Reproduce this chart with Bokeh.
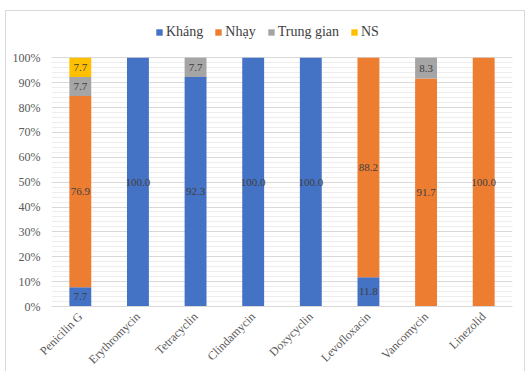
from bokeh.plotting import figure
from bokeh.models import FactorRange, Legend, LegendItem, ColumnDataSource, PrintfTickFormatter, Range1d, FixedTicker
from bokeh.core.properties import value
from bokeh.embed import file_html
from bokeh.resources import INLINE

drugs = ["Penicilin G", "Erythromycin", "Tetracyclin", "Clindamycin", "Doxycyclin",
         "Levofloxacin", "Vancomycin", "Linezolid"]
series = ["Kháng", "Nhạy", "Trung gian", "NS"]
khang = [7.7, 100.0, 92.3, 100.0, 100.0, 11.8, 0.0, 0.0]
nhay = [76.9, 0.0, 0.0, 0.0, 0.0, 88.2, 91.7, 100.0]
trung_gian = [7.7, 0.0, 7.7, 0.0, 0.0, 0.0, 8.3, 0.0]
ns = [7.7, 0.0, 0.0, 0.0, 0.0, 0.0, 0.0, 0.0]
colors = ["#4472C4", "#ED7D31", "#A5A5A5", "#FFC000"]
yticks = [0, 10, 20, 30, 40, 50, 60, 70, 80, 90, 100]
yminor = list(range(0, 101, 2))

FONT = "Liberation Serif"

data = {"drug": drugs, "Kháng": khang, "Nhạy": nhay, "Trung gian": trung_gian, "NS": ns}
src = ColumnDataSource(data)

p = figure(x_range=FactorRange(*drugs), y_range=Range1d(0, 115), width=520, height=363,
           output_backend="svg", toolbar_location=None,
           min_border_left=45, min_border_right=14, min_border_top=9, min_border_bottom=0,
           margin=(10, 0, 0, 5), styles={"border": "1px solid #D9D9D9"})

rs = p.vbar_stack(series, x="drug", width=0.38, color=colors, source=src, line_color=None)

# labels
lx, ly, lt = [], [], []
arrs = [khang, nhay, trung_gian, ns]
for i, d in enumerate(drugs):
    base = 0.0
    for arr in arrs:
        v = arr[i]
        if v > 0:
            lx.append(d)
            ly.append(base + v / 2)
            lt.append(f"{v:.1f}")
        base += v
p.text(x=lx, y=ly, text=lt, text_font=value(FONT), text_font_size="11px",
       text_color="#404040", text_align="center", text_baseline="middle")

legend = Legend(items=[LegendItem(label=s, renderers=[r]) for s, r in zip(series, rs)],
                orientation="horizontal", location=(104, 266),
                label_text_font=FONT, label_text_font_size="14px", label_text_color="#404040",
                glyph_width=8, glyph_height=8, spacing=11, label_standoff=3,
                border_line_color=None, background_fill_alpha=0, padding=3, margin=0)
p.add_layout(legend)

p.yaxis.ticker = FixedTicker(ticks=yticks, minor_ticks=yminor)
p.yaxis.formatter = PrintfTickFormatter(format="%d%%")
p.yaxis.axis_line_color = None
p.yaxis.major_tick_line_color = None
p.yaxis.minor_tick_line_color = None
p.yaxis.major_label_text_font = FONT
p.yaxis.major_label_text_font_size = "12px"
p.yaxis.major_label_text_color = "#595959"

p.xaxis.axis_line_color = "#D9D9D9"
p.xaxis.major_tick_line_color = None
p.xaxis.major_label_standoff = 2
p.xaxis.major_label_orientation = 0.785
p.xaxis.major_label_text_font = FONT
p.xaxis.major_label_text_font_size = "12px"
p.xaxis.major_label_text_color = "#595959"

p.xgrid.grid_line_color = None
p.ygrid.grid_line_color = "#D9D9D9"
p.ygrid.minor_grid_line_color = "#EDEDED"
p.outline_line_color = None

open("out.html", "w").write(file_html(p, INLINE))
